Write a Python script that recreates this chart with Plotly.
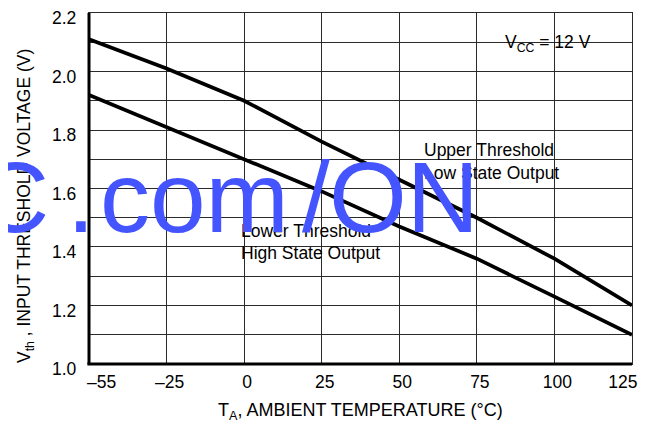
import plotly.graph_objects as go

# ---- data ----
temps = ["-55", "-25", "0", "25", "50", "75", "100", "125"]
tick_text = ["\u00a0\u00a0\u00a0\u00a0\u201355", "\u201325", "0", "25", "50", "75", "100",
             "125\u00a0\u00a0\u00a0\u00a0\u00a0"]
upper = [2.11, 2.01, 1.90, 1.76, 1.63, 1.50, 1.36, 1.20]
lower = [1.92, 1.81, 1.70, 1.59, 1.47, 1.36, 1.23, 1.10]
y_ticks = [1.0, 1.2, 1.4, 1.6, 1.8, 2.0, 2.2]
y_tick_text = ["1.0", "1.2", "1.4", "1.6", "1.8", "2.0", "2.2"]

# page has an 8px body margin: figure origin sits at (8, 8) on the page
OFF = 8
PL, PT, PR, PB = 89, 13, 632, 364          # plot area in page pixels
W, H = 652 - OFF, 426 - OFF
L, T = PL - OFF, PT - OFF
R, B = W - (PR - OFF), H - (PB - OFF)
PW, PH = PR - PL, PB - PT

def px(x):
    return (x - PL) / PW

def py(y):
    return (PB - y) / PH

FONT = "Liberation Sans Narrow, Arial Narrow, Liberation Sans, Arial, sans-serif"
GRID = "#2a2a2a"
TS = 17.5

fig = go.Figure()
for vals in (upper, lower):
    fig.add_trace(go.Scatter(x=temps, y=vals, mode="lines",
                             line=dict(color="black", width=3.7),
                             showlegend=False, hoverinfo="skip"))

fig.update_layout(
    width=W, height=H,
    margin=dict(l=L, r=R, t=T, b=B, pad=0, autoexpand=False),
    paper_bgcolor="white", plot_bgcolor="white",
    font=dict(family=FONT, size=TS, color="black"),
    xaxis=dict(type="category", categoryorder="array", categoryarray=temps,
               range=[0, 7], tickvals=temps, ticktext=tick_text,
               showgrid=True, gridcolor=GRID, gridwidth=1.3,
               showline=True, linecolor=GRID, linewidth=1.3, mirror=True,
               ticks="", tickfont=dict(size=TS), ticklabelshift=3,
               ticklabelstandoff=2, ticklabeloverflow="allow",
               zeroline=False, automargin=False),
    yaxis=dict(range=[0.9999, 2.2001], tickvals=y_ticks, ticktext=y_tick_text,
               showgrid=True, gridcolor=GRID, gridwidth=1.3,
               minor=dict(dtick=0.1, tick0=1.0, showgrid=True,
                          gridcolor=GRID, gridwidth=1.3, ticks=""),
               showline=True, linecolor=GRID, linewidth=1.3, mirror=True,
               ticks="", tickfont=dict(size=TS), ticklabelstandoff=8,
               ticklabelshift=5, ticklabeloverflow="allow",
               zeroline=False, automargin=False),
)

# thick left / bottom axes
fig.add_shape(type="line", xref="paper", yref="paper", x0=0, x1=0, y0=0, y1=1,
              line=dict(color="black", width=3), layer="above")
fig.add_shape(type="line", xref="paper", yref="paper", x0=-0.003, x1=1, y0=0, y1=0,
              line=dict(color="black", width=3), layer="above")

# white label boxes (above grid, below traces)
for (x0, y0, x1, y1) in [(488, 25, 610, 58), (410, 132, 577, 193), (230, 213, 392, 272)]:
    fig.add_shape(type="rect", xref="paper", yref="paper",
                  x0=px(x0), x1=px(x1), y0=py(y1), y1=py(y0),
                  fillcolor="white", line=dict(width=0), layer="between")

def ann(text, x, y, xanchor="left", size=TS, color="black", textangle=0):
    fig.add_annotation(text=text, xref="paper", yref="paper", x=px(x), y=py(y),
                       xanchor=xanchor, yanchor="middle", showarrow=False,
                       borderpad=0, textangle=textangle,
                       font=dict(family=FONT, size=size, color=color))

ann("V<sub>CC</sub> = 12 V", 548, 43, "center")
ann("Upper Threshold", 423, 150)
ann("Low State Output", 423, 173)
ann("Lower Threshold", 240, 231)
ann("High State Output", 240, 253)
ann("T<sub>A</sub>, AMBIENT TEMPERATURE (\u00b0C)", 360, 411, "center", size=18)
ann("V<sub>th</sub> , INPUT THRESHOLD VOLTAGE (V)", 25, 206, "center", size=17.5,
    textangle=-90)

# watermark
WM = "#4455FF"
for text, x, anchor in [("C", 50, "right"), (".", 81, "center"), ("com", 194, "center"),
                        ("/", 316, "center"), ("ON", 404, "center")]:
    fig.add_annotation(text=text, xref="paper", yref="paper", x=px(x), y=py(197),
                       xanchor=anchor, yanchor="middle", showarrow=False, borderpad=0,
                       font=dict(family="Liberation Sans, Arial, sans-serif",
                                 size=100, color=WM))

fig.write_html("out.html")
